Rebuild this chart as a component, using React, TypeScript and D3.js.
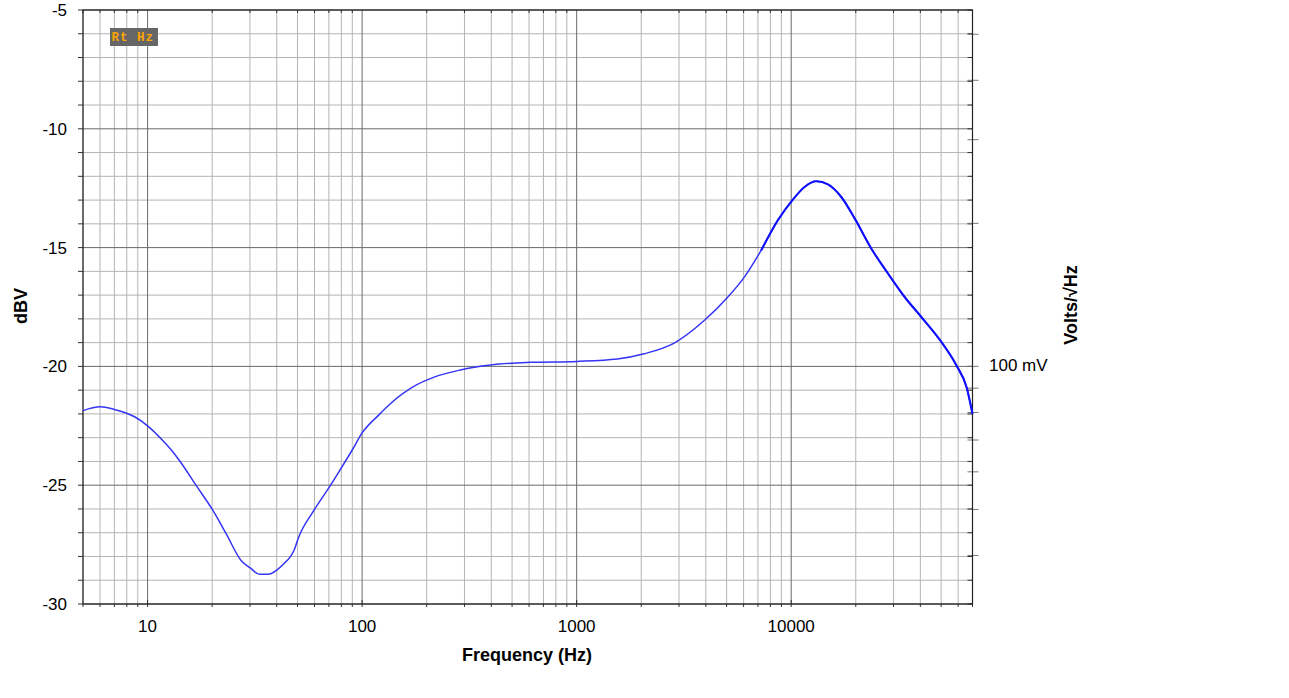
import React, { useMemo } from "react";
import * as d3 from "d3";

// measured trace: frequency (Hz) / level (dBV)
const freqs = [
  5, 6, 7, 8.7, 10, 11.8, 13.1, 14.1, 16.9, 20, 23.3, 27.4, 30, 33.3, 36.5, 40,
  42.9, 48.6, 50.3, 59.2, 70.9, 79, 89.5, 100, 120, 135, 180, 215, 287, 396,
  609, 1000, 1547, 2063, 2848, 3931, 5056, 6046, 7241, 8663, 10180, 11540,
  13090, 14840, 17120, 19790, 23660, 28320, 33870, 40500, 50200, 59000, 65700,
  70000,
];
const dbv = [
  -21.86, -21.7, -21.81, -22.12, -22.5, -23.13, -23.59, -23.97, -25.03, -26.01,
  -27.06, -28.19, -28.47, -28.75, -28.75, -28.57, -28.33, -27.65, -27.25, -26.1,
  -25.03, -24.35, -23.55, -22.8, -22.03, -21.58, -20.77, -20.46, -20.15,
  -19.94, -19.83, -19.79, -19.69, -19.47, -19.02, -18.07, -17.09, -16.24,
  -15.12, -13.85, -12.98, -12.45, -12.21, -12.34, -12.87, -13.78, -15.05,
  -16.1, -17.09, -17.93, -18.98, -19.97, -20.88, -22.0,
];

const xTicks = [10, 100, 1000, 10000];
const yTicks = [-5, -10, -15, -20, -25, -30];
// right axis, volts (log), only 100 mV labelled
const voltTicks = [0.5, 0.4, 0.3, 0.2, 0.1, 0.09, 0.08, 0.07, 0.06, 0.05, 0.04];

const W = 1289;
const H = 698;
const m = { left: 83, right: 972.5, top: 10, bottom: 604 };
const font = "'Liberation Sans', Arial, sans-serif";

export default function App() {
  const x = useMemo(() => d3.scaleLog([5, 70000], [m.left, m.right]), []);
  const y = useMemo(() => d3.scaleLinear([-30, -5], [m.bottom, m.top]), []);

  const minorX = useMemo(() => {
    const out: number[] = [];
    [1, 10, 100, 1000, 10000].forEach((dec) => {
      for (let k = 1; k <= 9; k++) {
        const f = dec * k;
        if (f >= 5 && f <= 70000 && !xTicks.includes(f)) out.push(f);
      }
    });
    return out;
  }, []);
  const minorY = d3.range(-29, -5).filter((v) => v % 5 !== 0);

  const pts = freqs.map((f, i) => [f, dbv[i]] as [number, number]);
  const line = d3
    .line<[number, number]>()
    .x((d) => x(d[0]))
    .y((d) => y(d[1]))
    .curve(d3.curveMonotoneX);
  const path = line(pts) || "";
  const pathHi = line(pts.filter((d) => d[0] >= 7241)) || "";

  return (
    <svg
      width={W}
      height={H}
      style={{ position: "absolute", top: 0, left: 0, background: "#fff" }}
    >
      {/* minor grid */}
      {minorX.map((f) => (
        <line key={"mx" + f} x1={x(f)} x2={x(f)} y1={m.top} y2={m.bottom} stroke="#b4b4b4" />
      ))}
      {minorY.map((v) => (
        <line key={"my" + v} x1={m.left} x2={m.right} y1={y(v)} y2={y(v)} stroke="#b4b4b4" />
      ))}
      {/* major grid */}
      {xTicks.map((f) => (
        <line key={"Mx" + f} x1={x(f)} x2={x(f)} y1={m.top} y2={m.bottom} stroke="#6a6a6a" />
      ))}
      {yTicks.map((v) => (
        <line key={"My" + v} x1={m.left} x2={m.right} y1={y(v)} y2={y(v)} stroke="#6a6a6a" />
      ))}

      {/* ticks */}
      {d3.range(-30, -4).map((v) => (
        <React.Fragment key={"ty" + v}>
          <line x1={m.left - 5} x2={m.left} y1={y(v)} y2={y(v)} stroke="#333" />
          <line x1={m.right - 5} x2={m.right} y1={y(v)} y2={y(v)} stroke="#333" />
        </React.Fragment>
      ))}
      {minorX.map((f) => (
        <React.Fragment key={"tx" + f}>
          <line x1={x(f)} x2={x(f)} y1={m.bottom} y2={m.bottom + 3} stroke="#333" />
          <line x1={x(f)} x2={x(f)} y1={m.top} y2={m.top + 3} stroke="#333" />
        </React.Fragment>
      ))}
      {xTicks.map((f) => (
        <line key={"txM" + f} x1={x(f)} x2={x(f)} y1={m.bottom - 4} y2={m.bottom + 3} stroke="#333" />
      ))}
      {voltTicks.map((v) => {
        const yy = y(20 * Math.log10(v));
        return (
          <line key={"tv" + v} x1={m.right - 5} x2={m.right + 6} y1={yy} y2={yy} stroke="#777" />
        );
      })}

      {/* frame */}
      <rect
        x={m.left}
        y={m.top}
        width={m.right - m.left}
        height={m.bottom - m.top}
        fill="none"
        stroke="#222"
        strokeWidth={1.2}
      />

      {/* trace */}
      <path d={path} fill="none" stroke="#3535f5" strokeWidth={1.5} />
      <path d={pathHi} fill="none" stroke="#1010ff" strokeWidth={2.1} />

      {/* legend */}
      <rect x={110} y={28} width={48} height={18} fill="#666" />
      <text
        x={111.5}
        y={40.5}
        fill="#ffa500"
        fontFamily="'Liberation Mono', 'DejaVu Sans Mono', monospace"
        fontWeight="bold"
        fontSize={12.5}
        letterSpacing={1}
        xmlSpace="preserve"
      >
        Rt Hz
      </text>

      {/* labels */}
      <g fontFamily={font} fontSize={17} fill="#000">
        {yTicks.map((v) => (
          <text key={"ly" + v} x={67} y={y(v) + 6} textAnchor="end">
            {v}
          </text>
        ))}
        {xTicks.map((f) => (
          <text key={"lx" + f} x={x(f)} y={632} textAnchor="middle">
            {f}
          </text>
        ))}
        <text x={989} y={371}>100 mV</text>
        <g fontWeight="bold" fontSize={18}>
          <text x={527} y={661} textAnchor="middle">
            Frequency (Hz)
          </text>
          <text transform="translate(27,306) rotate(-90)" textAnchor="middle">
            dBV
          </text>
          <text transform="translate(1077,305) rotate(-90)" textAnchor="middle">
            Volts/√Hz
          </text>
        </g>
      </g>
    </svg>
  );
}
